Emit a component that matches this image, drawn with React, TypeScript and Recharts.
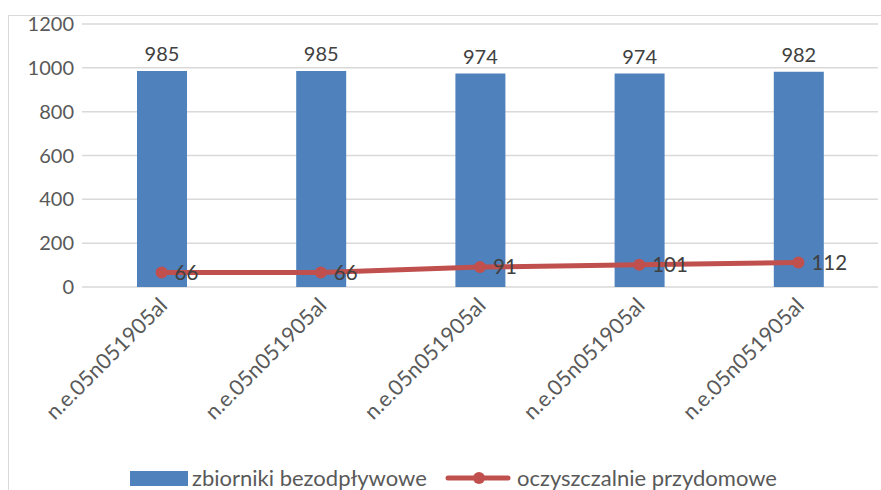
import React from 'react';
import { ComposedChart, Bar, Line, XAxis, YAxis, CartesianGrid, LabelList } from 'recharts';

const categories = ['n.e.05n051905al', 'n.e.05n051905al', 'n.e.05n051905al', 'n.e.05n051905al', 'n.e.05n051905al'];
const zbiorniki = [985, 985, 974, 974, 982];
const oczyszczalnie = [66, 66, 91, 101, 112];
const yTicks = [0, 200, 400, 600, 800, 1000, 1200];

const seriesNames = ['zbiorniki bezodpływowe', 'oczyszczalnie przydomowe'];

const data = categories.map((c, i) => ({
  name: c,
  idx: i,
  zb: zbiorniki[i],
  oc: oczyszczalnie[i],
}));

const FONT = 'Lato, "Open Sans", sans-serif';
const BLUE = '#4F81BD';
const RED = '#C0504D';

const XTick = (props: any) => {
  const { x, y, payload } = props;
  return (
    <g transform={`translate(${x + 7},${y + 12})`}>
      <text transform="rotate(-45)" textAnchor="end" fontSize={21.5} fill="#595959" fontFamily={FONT}>
        {categories[payload.value]}
      </text>
    </g>
  );
};

export default function App() {
  return (
    <div style={{ position: 'fixed', left: 0, top: 0, width: 881, height: 490, overflow: 'hidden', background: '#fff' }}>
      <div style={{ position: 'absolute', left: 8, top: 15, width: 900, height: 500, border: '1px solid #d9d9d9', boxSizing: 'border-box' }} />
      <div style={{ position: 'absolute', left: 0, top: 0 }}>
        <ComposedChart width={881} height={490} data={data} margin={{ top: 24, right: 3, left: 0, bottom: 53 }}>
          <CartesianGrid vertical={false} stroke="#d9d9d9" strokeWidth={1.5} />
          <XAxis dataKey="idx" type="category" height={150} tickLine={false} axisLine={false} tick={<XTick />} interval={0} />
          <YAxis width={82} domain={[0, 1200]} ticks={yTicks} tickLine={false} axisLine={false}
            tick={{ fontSize: 20, fill: '#595959', fontFamily: FONT }} />
          <Bar dataKey="zb" fill={BLUE} barSize={50} isAnimationActive={false}>
            <LabelList dataKey="zb" position="top" offset={10} fill="#404040" fontSize={20} fontFamily={FONT} />
          </Bar>
          <Line dataKey="oc" stroke={RED} strokeWidth={5} dot={{ r: 6, fill: RED, stroke: RED, strokeWidth: 0 }} activeDot={false} isAnimationActive={false}>
            <LabelList dataKey="oc" position="right" offset={13} fill="#404040" fontSize={20.5} fontFamily={FONT} />
          </Line>
        </ComposedChart>
      </div>
      <div style={{ position: 'absolute', left: 0, top: 466, width: 881, fontFamily: FONT, fontSize: 22, color: '#595959', whiteSpace: 'nowrap' }}>
        <div style={{ position: 'absolute', left: 130, top: 5, width: 58, height: 15, background: BLUE }} />
        <div style={{ position: 'absolute', left: 192, top: -1, lineHeight: '26px' }}>{seriesNames[0]}</div>
        <svg style={{ position: 'absolute', left: 445, top: 2 }} width={66} height={20}>
          <line x1={3} y1={10} x2={63} y2={10} stroke={RED} strokeWidth={5} strokeLinecap="round" />
          <circle cx={34} cy={10} r={6} fill={RED} />
        </svg>
        <div style={{ position: 'absolute', left: 517, top: -1, lineHeight: '26px' }}>{seriesNames[1]}</div>
      </div>
    </div>
  );
}
